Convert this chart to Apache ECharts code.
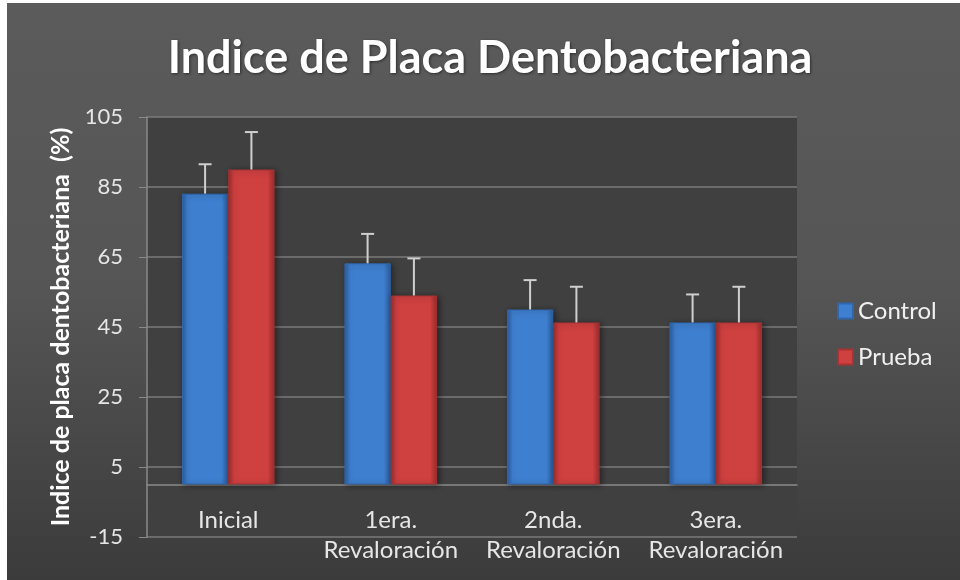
<!DOCTYPE html>
<html>
<head>
<meta charset="utf-8">
<script src="https://cdn.jsdelivr.net/npm/echarts@6/dist/echarts.min.js"></script>
<style>
html,body{margin:0;padding:0;background:#ffffff;width:960px;height:580px;overflow:hidden;}
#main{position:absolute;left:7px;top:3px;width:953px;height:577px;}
</style>
</head>
<body>
<div id="main"></div>
<script>
const categories = ['Inicial', '1era.\nRevaloración', '2nda.\nRevaloración', '3era.\nRevaloración'];
const controlValues = [83.1, 63.2, 50.0, 46.3];
const pruebaValues = [90.0, 54.0, 46.3, 46.3];
const controlErrors = [8.4, 8.4, 8.4, 8.0];
const pruebaErrors = [10.7, 10.6, 10.2, 10.2];
const yTicks = {min: -15, max: 105, interval: 20};
const seriesNames = ['Control', 'Prueba'];

const FONT = 'Lato';
const CAT_GAP = 0.43;

function barGrad(dark, mid) {
  return new echarts.graphic.LinearGradient(0, 0, 1, 0, [
    {offset: 0, color: dark},
    {offset: 0.12, color: mid},
    {offset: 0.85, color: mid},
    {offset: 1, color: dark}
  ]);
}
const blueFill = barGrad('#2b5d9e', '#3f7fcf');
const redFill = barGrad('#9c2d2d', '#cf4040');

function errorRender(sideIndex) {
  return function (params, api) {
    const idx = api.value(0);
    const v = api.value(1);
    const e = api.value(2);
    const base = api.coord([idx, v]);
    const top = api.coord([idx, v + e]);
    const band = api.size([1, 0])[0];
    const barW = band * (1 - CAT_GAP) / 2;
    const x = base[0] + (sideIndex === 0 ? -barW / 2 : barW / 2);
    const cap = 6.5;
    const st = {stroke: '#cfcfcf', lineWidth: 2};
    return {
      type: 'group',
      children: [
        {type: 'line', shape: {x1: x, y1: base[1], x2: x, y2: top[1]}, style: st},
        {type: 'line', shape: {x1: x - cap, y1: top[1], x2: x + cap, y2: top[1]}, style: st}
      ]
    };
  };
}

const chart = echarts.init(document.getElementById('main'));
chart.setOption({
  animation: false,
  backgroundColor: new echarts.graphic.LinearGradient(0, 0, 0, 1, [
    {offset: 0, color: '#5b5b5b'},
    {offset: 0.5, color: '#555555'},
    {offset: 1, color: '#3b3b3b'}
  ]),
  title: {
    text: 'Indice de Placa Dentobacteriana',
    left: 478, top: 28, textAlign: 'center',
    textStyle: {color: '#ffffff', fontFamily: FONT, fontWeight: 'bold', fontSize: 45,
      textShadowColor: 'rgba(0,0,0,0.5)', textShadowBlur: 3, textShadowOffsetX: 1, textShadowOffsetY: 1}
  },
  legend: {
    orient: 'vertical', left: 825, top: 291, itemGap: 22,
    itemWidth: 15, itemHeight: 15,
    icon: 'rect',
    textStyle: {color: '#f0f0f0', fontFamily: FONT, fontSize: 24},
    data: seriesNames
  },
  grid: {
    left: 140, right: 163, top: 114, bottom: 43,
    containLabel: false, outerBoundsMode: 'none',
    show: true, backgroundColor: '#404040', borderWidth: 0
  },
  xAxis: {
    type: 'category',
    data: categories,
    axisLine: {onZero: true, lineStyle: {color: '#8a8a8a', width: 1.5}},
    axisTick: {show: false},
    axisLabel: {color: '#e6e6e6', fontFamily: FONT, fontSize: 24, margin: -32, lineHeight: 30, interval: 0}
  },
  yAxis: {
    type: 'value',
    min: yTicks.min, max: yTicks.max, interval: yTicks.interval,
    name: 'Indice de placa dentobacteriana  (%)',
    nameLocation: 'middle', nameGap: 68, nameRotate: 90,
    nameTextStyle: {color: '#ffffff', fontFamily: FONT, fontWeight: 'bold', fontSize: 25},
    axisLine: {show: true, lineStyle: {color: '#8a8a8a', width: 1.5}},
    axisTick: {show: true, inside: false, length: 8, lineStyle: {color: '#8a8a8a'}},
    axisLabel: {color: '#e6e6e6', fontFamily: FONT, fontSize: 22, margin: 24},
    splitLine: {show: true, lineStyle: {color: '#7a7a7a', width: 1.5}}
  },
  series: [
    {
      name: 'Control', type: 'bar', data: controlValues,
      barGap: '0%', barCategoryGap: (CAT_GAP * 100) + '%',
      itemStyle: {color: blueFill, borderColor: '#2f66ad', borderWidth: 1,
        shadowColor: 'rgba(0,0,0,0.45)', shadowBlur: 6, shadowOffsetX: 2, shadowOffsetY: 1},
      z: 2
    },
    {
      name: 'Prueba', type: 'bar', data: pruebaValues,
      barGap: '0%', barCategoryGap: (CAT_GAP * 100) + '%',
      itemStyle: {color: redFill, borderColor: '#a83232', borderWidth: 1,
        shadowColor: 'rgba(0,0,0,0.45)', shadowBlur: 6, shadowOffsetX: 2, shadowOffsetY: 1},
      z: 2
    },
    {
      name: 'ControlErr', type: 'custom',
      renderItem: errorRender(0),
      data: controlValues.map((v, i) => [i, v, controlErrors[i]]),
      encode: {x: 0, y: [1]},
      z: 5, silent: true
    },
    {
      name: 'PruebaErr', type: 'custom',
      renderItem: errorRender(1),
      data: pruebaValues.map((v, i) => [i, v, pruebaErrors[i]]),
      encode: {x: 0, y: [1]},
      z: 5, silent: true
    }
  ]
});
</script>
</body>
</html>
